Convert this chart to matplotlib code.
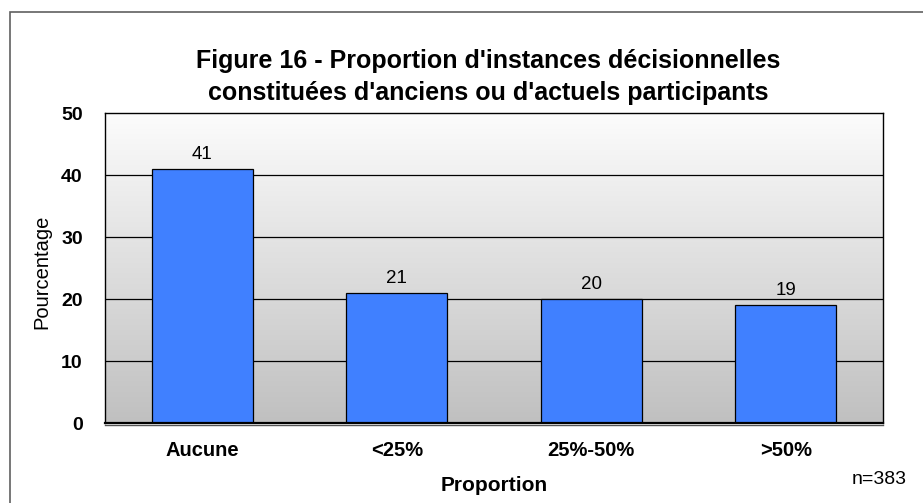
import numpy as np
import matplotlib
matplotlib.use("Agg")
import matplotlib.pyplot as plt
from matplotlib.patches import Rectangle

plt.rcParams["font.family"] = ["Liberation Sans", "DejaVu Sans"]

categories = ["Aucune", "<25%", "25%-50%", ">50%"]
values = [41, 21, 20, 19]
y_ticks = [0, 10, 20, 30, 40, 50]
title = "Figure 16 - Proportion d'instances décisionnelles\nconstituées d'anciens ou d'actuels participants"
sample_note = "n=383"

BAR_COLOR = "#4080ff"

fig = plt.figure(figsize=(9.23, 5.03), dpi=100)
ax = fig.add_axes([105 / 923, 1 - 423 / 503, 778 / 923, 310 / 503])

x = np.arange(len(categories))
ax.set_xlim(-0.5, len(categories) - 0.5)
ax.set_ylim(0, 50)

# gradient background: light at top, grey at bottom
grad = np.linspace(0, 1, 256).reshape(-1, 1)
cmap = matplotlib.colors.LinearSegmentedColormap.from_list("bg", ["#c0c0c0", "#fcfcfc"])
ax.imshow(grad, aspect="auto", cmap=cmap, origin="lower",
          extent=[-0.5, len(categories) - 0.5, 0, 50], zorder=0)

for yt in y_ticks[1:-1]:
    ax.axhline(yt, color="black", linewidth=0.9, zorder=1)

ax.bar(x, values, width=0.52, color=BAR_COLOR, edgecolor="black",
       linewidth=0.9, zorder=2)
for xi, v in zip(x, values):
    ax.text(xi, v + 1.0, str(v), ha="center", va="bottom", fontsize=13.5, zorder=3)

ax.set_xticks(x)
ax.set_xticklabels(categories, fontsize=14.5, fontweight="bold")
ax.set_yticks(y_ticks)
ax.set_yticklabels([str(t) for t in y_ticks], fontsize=14, fontweight="bold")
ax.tick_params(axis="both", length=0)
ax.tick_params(axis="y", pad=16)
ax.tick_params(axis="x", pad=13)

for side in ["top", "right", "left"]:
    ax.spines[side].set_linewidth(1.0)
ax.spines["bottom"].set_linewidth(1.6)

# thin shadow line under the floor
ax.plot([0, 1], [-0.006, -0.006], transform=ax.transAxes, color="#555555",
        linewidth=1.0, clip_on=False, zorder=4)

ax.set_xlabel("Proportion", fontsize=15, fontweight="bold")
ax.xaxis.set_label_coords(0.5, -(476 - 423) / 310)

fig.text(42 / 923, 1 - 272 / 503, "Pourcentage", rotation=90, ha="center",
         va="center", fontsize=14.5)
fig.text(488 / 923, 1 - 77 / 503, title, ha="center", va="center",
         fontsize=18, fontweight="bold", linespacing=1.45)
fig.text(879 / 923, 1 - 480 / 503, sample_note, ha="center", va="center", fontsize=14)

# outer chart frame (only top and left visible in crop)
fig.add_artist(Rectangle((9.5 / 923, -0.05), 1.2, 1 - 11.5 / 503 + 0.05,
                         transform=fig.transFigure, fill=False,
                         edgecolor="#606060", linewidth=1.2))

fig.savefig("out.png", dpi=100)
